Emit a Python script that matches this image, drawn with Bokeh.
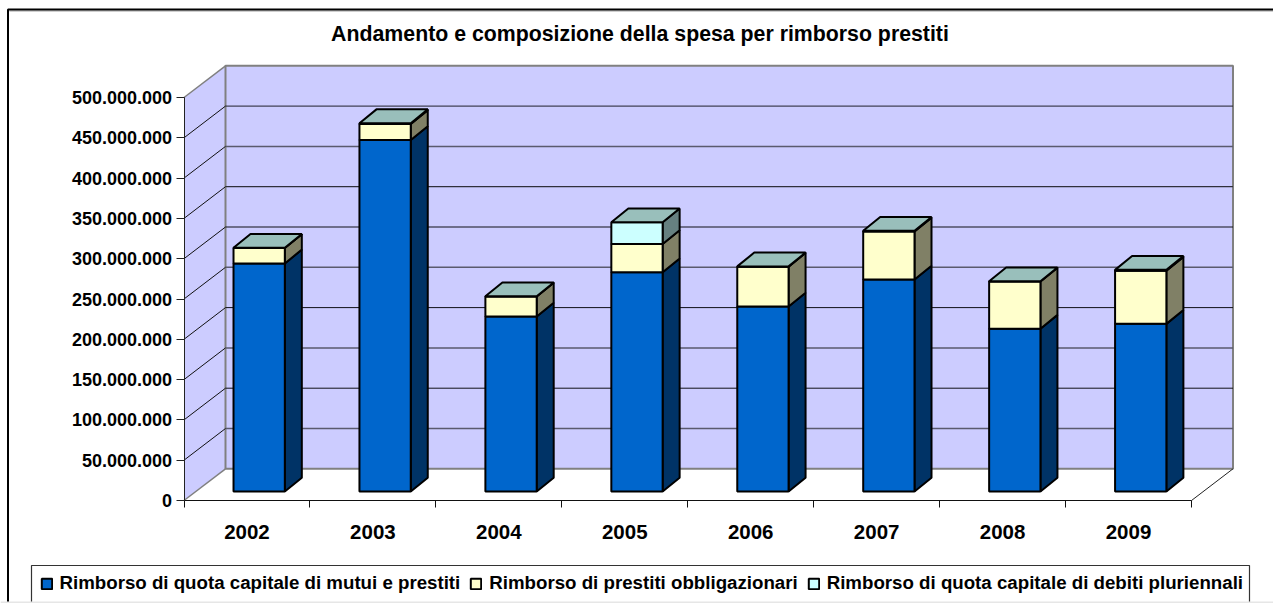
from bokeh.plotting import figure
from bokeh.embed import file_html
from bokeh.resources import INLINE
from bokeh.models import Range1d, FixedTicker, Legend, LegendItem
from bokeh.core.properties import value

TITLE = "Andamento e composizione della spesa per rimborso prestiti"
years = ["2002", "2003", "2004", "2005", "2006", "2007", "2008", "2009"]
mutui = [283, 436, 217, 272, 229.5, 263, 202, 208]
obblig = [19, 20, 25, 35, 49.5, 59.5, 58.5, 66]
debiti = [0.3, 1, 0.3, 27, 0.3, 1, 0.3, 1]
series_names = ["Rimborso di quota capitale di mutui e prestiti",
                "Rimborso di prestiti obbligazionari",
                "Rimborso di quota capitale di debiti pluriennali"]
y_ticks = [0, 50, 100, 150, 200, 250, 300, 350, 400, 450, 500]
y_labels = ["0", "50.000.000", "100.000.000", "150.000.000", "200.000.000", "250.000.000",
            "300.000.000", "350.000.000", "400.000.000", "450.000.000", "500.000.000"]

FONT = "Liberation Sans"
W, H = 1273, 603
X0, X8 = 183.5, 1191.0
Y0, Y500 = 500.0, 97.0
ux = (X8 - X0) / 8
uy = (Y0 - Y500) / 500
def X(px): return (px - X0) / ux
def Y(py): return (Y0 - py) / uy

p = figure(width=W, height=H, output_backend="svg", toolbar_location=None,
           x_range=Range1d(X(0), X(W)), y_range=Range1d(Y(H), Y(0)),
           min_border=0, min_border_left=0, min_border_right=0, min_border_top=0, min_border_bottom=0,
           outline_line_color=None, background_fill_color="white", border_fill_color="white")
p.grid.visible = False

# walls
wall_dx, wall_dy = 41.5 / ux, 31.7 / uy
xt = 500 + wall_dy
GRAY = "#808080"
WALL = "#CCCCFF"
p.patch([0, 0, wall_dx, wall_dx], [0, 500, xt, wall_dy], fill_color=WALL, line_color=None)
p.patch([wall_dx, wall_dx, 8 + wall_dx, 8 + wall_dx], [wall_dy, xt, xt, wall_dy], fill_color=WALL,
        line_color=GRAY, line_width=2)
p.line([0, wall_dx], [0, wall_dy], line_color=GRAY, line_width=1.5)
p.line([0, wall_dx], [500, xt], line_color=GRAY, line_width=1.5)
p.line([8, 8 + wall_dx], [0, wall_dy], line_color="#222222", line_width=1)
gt = y_ticks[1:-1]
gcol = ["#5a5a6e", "#101018", "#5a5a6e", "#101018", "#5a5a6e", "#101018", "#30303c", "#5a5a6e", "#20202c"]
gwid = [1.5, 1, 1.5, 1, 1.5, 1, 1.2, 1.5, 1]
p.segment([wall_dx] * len(gt), [t + wall_dy for t in gt], [8 + wall_dx] * len(gt), [t + wall_dy for t in gt],
          line_color=gcol, line_width=gwid)
p.segment([0] * len(gt), gt, [wall_dx] * len(gt), [t + wall_dy for t in gt], line_color="#111111", line_width=1)

# bars
cx = [i + 0.5 + 12.2 / ux for i in range(len(years))]
bw = 51.3 / ux
base = Y(491)
ddx, ddy = 17.0 / ux, 13.8 / uy
stacks = [mutui, obblig, debiti]
fronts = ["#0066CC", "#FFFFCC", "#CCFFFF"]
sides = ["#003366", "#808066", "#668080"]
TOP = "#99BFBB"
renderers = []
bottoms = [base] * len(years)
for vals, fc, sc in zip(stacks, fronts, sides):
    tops = [b + v for b, v in zip(bottoms, vals)]
    xr = [c + bw / 2 for c in cx]
    p.patches([[x, x + ddx, x + ddx, x] for x in xr],
              [[b, b + ddy, t + ddy, t] for b, t in zip(bottoms, tops)],
              fill_color=sc, line_color="black", line_width=2)
    r = p.quad(left=[c - bw / 2 for c in cx], right=xr, bottom=bottoms, top=tops,
               fill_color=fc, line_color="black", line_width=2)
    renderers.append(r)
    bottoms = tops
p.patches([[c - bw / 2, c + bw / 2, c + bw / 2 + ddx, c - bw / 2 + ddx] for c in cx],
          [[t, t, t + ddy, t + ddy] for t in bottoms], fill_color=TOP, line_color="black", line_width=2)

# axes
ya = p.yaxis[0]
ya.fixed_location = 0
ya.bounds = (0, 500)
ya.ticker = FixedTicker(ticks=y_ticks)
ya.major_label_overrides = dict(zip(y_ticks, y_labels))
ya.major_tick_in, ya.major_tick_out = 0, 8
ya.minor_tick_line_color = None
ya.major_label_standoff = 4
ya.major_label_text_font = FONT
ya.major_label_text_font_style = "bold"
ya.major_label_text_font_size = "18px"
ya.major_label_text_color = "black"
ya.axis_line_color = "#222222"
ya.major_tick_line_color = "#222222"

xa = p.xaxis[0]
xa.fixed_location = 0
xa.bounds = (0, 8)
centers = [i + 0.5 for i in range(len(years))]
xa.ticker = FixedTicker(ticks=centers, minor_ticks=list(range(len(years) + 1)))
xa.major_label_overrides = dict(zip(centers, years))
xa.major_tick_in, xa.major_tick_out = 0, 0
xa.minor_tick_in, xa.minor_tick_out = 0, 7
xa.major_label_standoff = 17
xa.major_label_text_font = FONT
xa.major_label_text_font_style = "bold"
xa.major_label_text_font_size = "20.5px"
xa.major_label_text_color = "black"
xa.axis_line_color = "#111111"
xa.minor_tick_line_color = "#111111"

# title
p.text(x=[X(639.5)], y=[Y(33)], text=[TITLE], text_align="center", text_baseline="middle",
       text_font=value(FONT), text_font_style="bold", text_font_size="21.3px", text_color="black")

# page border and legend frame
p.line([X(0), X(W)], [Y(602), Y(602)], line_color="#E6E6E6", line_width=2)
p.line([X(8.8), X(W)], [Y(10.5), Y(10.5)], line_color="#A0A0A0", line_width=1)
p.line([X(7.5), X(7.5), X(W)], [Y(601), Y(9), Y(9)], line_color="black", line_width=2)
p.line([X(31), X(31), X(1249), X(1249)], [Y(601), Y(565), Y(565), Y(601)], line_color="#333333", line_width=1.2)

legend = Legend(items=[LegendItem(label=n, renderers=[r]) for n, r in zip(series_names, renderers)],
                orientation="horizontal", location=(39.5, 9), border_line_color=None,
                background_fill_alpha=0, padding=0, margin=0, spacing=9, label_standoff=7,
                glyph_width=13, glyph_height=13, label_text_font=FONT, label_text_font_style="bold",
                label_text_font_size="18.7px", label_text_color="black")
p.add_layout(legend, "center")

open("out.html", "w").write(file_html(p, INLINE))
